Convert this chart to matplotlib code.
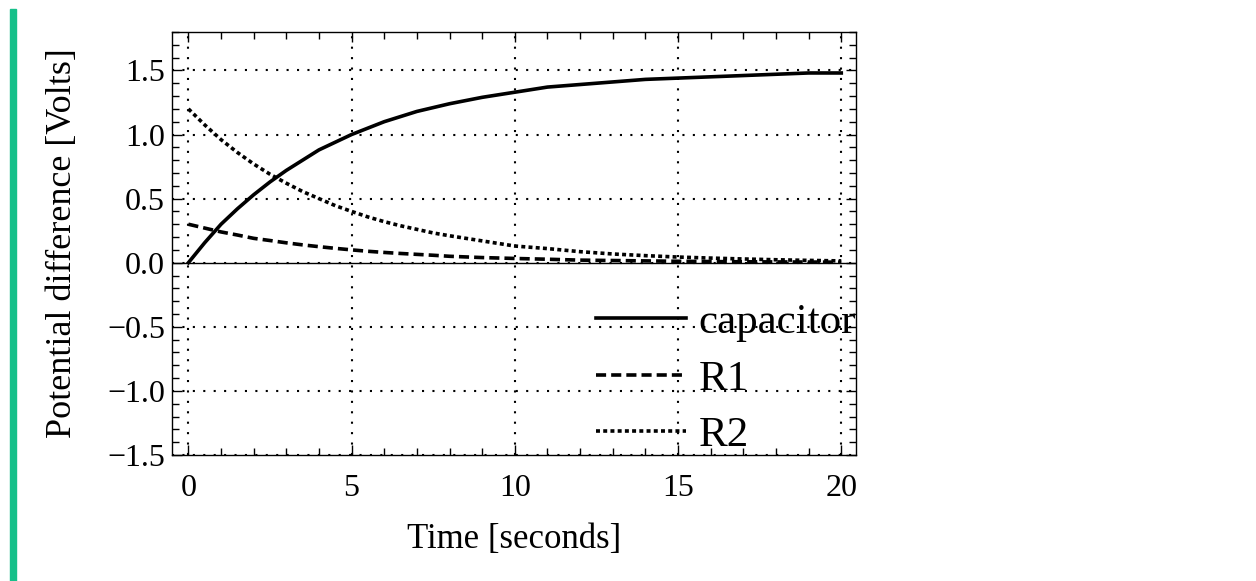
import matplotlib
matplotlib.use('Agg')
import matplotlib.pyplot as plt
from matplotlib.patches import Rectangle
from matplotlib.ticker import MultipleLocator

# values
t = [0, 0.5, 1, 1.5, 2, 2.5, 3, 3.5, 4, 4.5, 5, 5.5, 6, 6.5, 7, 7.5, 8, 9, 10,
     11, 12, 13, 14, 15, 16, 17, 18, 19, 20]
v_cap = [0.0, 0.156, 0.30, 0.42, 0.53, 0.63, 0.72, 0.80, 0.88, 0.94, 1.00, 1.05, 1.10,
         1.14, 1.18, 1.21, 1.24, 1.29, 1.33, 1.37, 1.39, 1.41, 1.43, 1.44, 1.45, 1.46,
         1.47, 1.48, 1.48]
v_r1 = [0.30, 0.27, 0.24, 0.216, 0.19, 0.173, 0.155, 0.139, 0.125, 0.112, 0.10, 0.089,
        0.08, 0.072, 0.065, 0.058, 0.05, 0.04, 0.033, 0.027, 0.02, 0.017, 0.014, 0.011,
        0.009, 0.007, 0.006, 0.005, 0.004]
v_r2 = [1.20, 1.075, 0.96, 0.86, 0.77, 0.69, 0.62, 0.555, 0.50, 0.445, 0.40, 0.357,
        0.32, 0.288, 0.26, 0.232, 0.21, 0.17, 0.13, 0.11, 0.086, 0.068, 0.055, 0.044,
        0.036, 0.029, 0.023, 0.018, 0.014]
labels = ['capacitor', 'R1', 'R2']

plt.rcParams['font.family'] = ['Liberation Serif', 'DejaVu Serif']

fig = plt.figure(figsize=(12.56, 5.81), dpi=100)
fig.patches.append(Rectangle((0.0080, 0.0), 0.0045, 0.985, transform=fig.transFigure,
                             color='#16c08a', zorder=0))

ax = fig.add_axes([0.137, 0.2169, 0.5445, 0.7281])
ax.axhline(0, color='black', lw=1.0, zorder=1)
ax.plot(t, v_cap, color='black', lw=2.6, ls='-', label=labels[0])
ax.plot(t, v_r1, color='black', lw=2.6, ls=(0, (2.8, 1.4)), label=labels[1])
ax.plot(t, v_r2, color='black', lw=2.6, ls=(0, (1.1, 0.9)), label=labels[2])

ax.set_xlim(-0.5, 20.45)
ax.set_ylim(-1.5, 1.8)
ax.xaxis.set_major_locator(MultipleLocator(5))
ax.xaxis.set_minor_locator(MultipleLocator(1))
ax.yaxis.set_major_locator(MultipleLocator(0.5))
ax.yaxis.set_minor_locator(MultipleLocator(0.1))
ax.tick_params(which='both', direction='in', top=True, right=True, width=1.0)
ax.tick_params(which='major', length=7, labelsize=23)
ax.tick_params(axis='x', which='major', pad=14)
ax.tick_params(axis='y', which='major', pad=5)
ax.tick_params(which='minor', length=5)
ax.grid(True, which='major', color='black', ls=(0, (1, 4)), lw=1.5)
for s in ax.spines.values():
    s.set_linewidth(1.0)

ax.set_xlabel('Time [seconds]', fontsize=25, labelpad=14)
ax.set_ylabel('Potential difference [Volts]', fontsize=26, labelpad=20)

ax.legend(loc='lower right', frameon=False, fontsize=31, handlelength=2.1,
          handletextpad=0.28, labelspacing=0.4, borderaxespad=0.0, borderpad=0.0,
          bbox_to_anchor=(1.0, 0.0))

fig.savefig('out.png', dpi=100)
